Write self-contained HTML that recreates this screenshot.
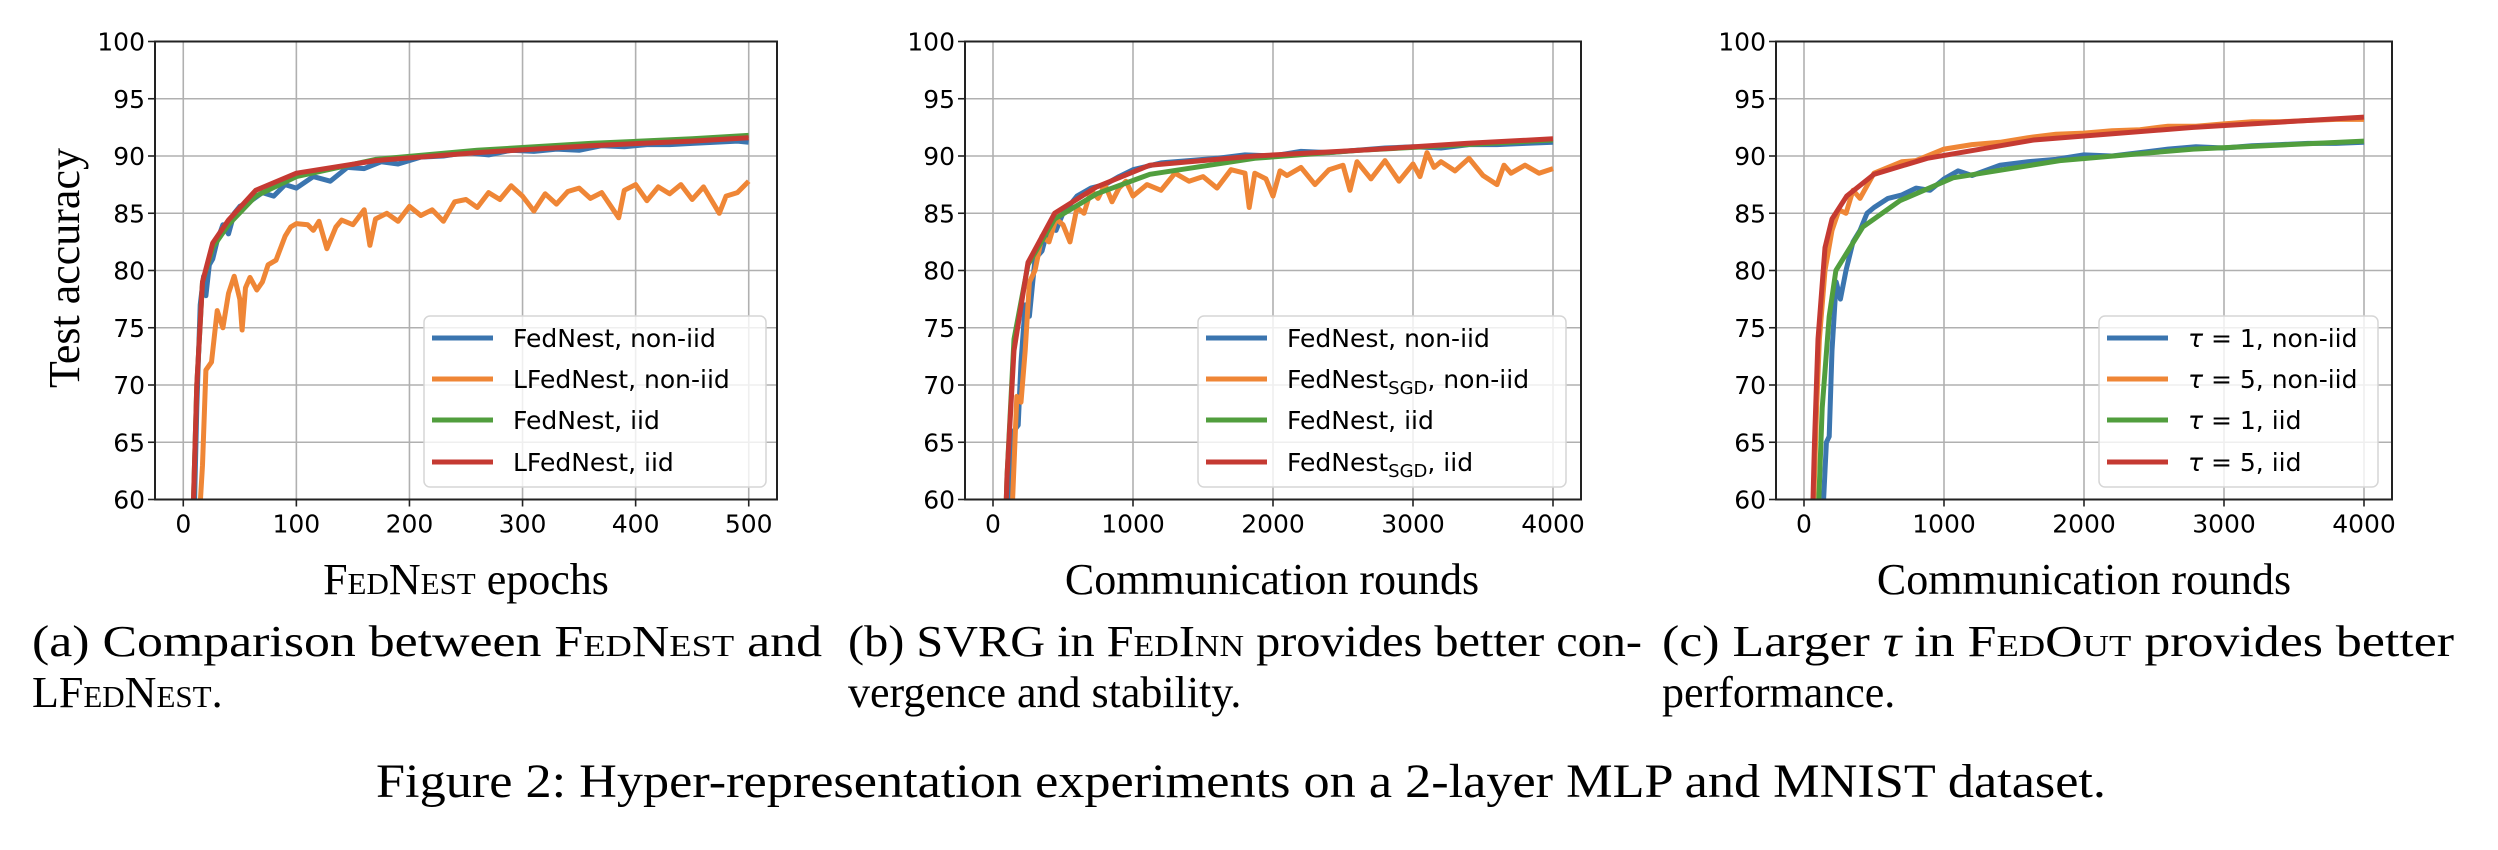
<!DOCTYPE html>
<html><head><meta charset="utf-8"><style>
html,body{margin:0;padding:0;background:#fff;}
svg{display:block;}
.tick{font-family:"DejaVu Sans","Liberation Sans",sans-serif;font-size:25px;fill:#000;}
.leg{font-family:"DejaVu Sans","Liberation Sans",sans-serif;font-size:25px;fill:#000;}
.serif{font-family:"Liberation Serif","DejaVu Serif",serif;fill:#000;}
.sc{font-variant:small-caps;}
</style></head><body>
<svg id="fig" width="2498" height="850" viewBox="0 0 2498 850" xmlns="http://www.w3.org/2000/svg">
<text class="serif" font-size="44" transform="translate(79,268) rotate(-90)" text-anchor="middle">Test accuracy</text>
<text class="serif" font-size="44" x="466" y="594" text-anchor="middle"><tspan class="sc">FedNest</tspan> epochs</text>
<text class="serif" font-size="44" x="1272" y="594" text-anchor="middle">Communication rounds</text>
<text class="serif" font-size="44" x="2084" y="594" text-anchor="middle">Communication rounds</text>
<text class="serif" font-size="44" x="32" y="656" textLength="790" lengthAdjust="spacingAndGlyphs">(a) Comparison between <tspan class="sc">FedNest</tspan> and</text>
<text class="serif" font-size="44" x="32" y="707">L<tspan class="sc">FedNest</tspan>.</text>
<text class="serif" font-size="44" x="848" y="656" textLength="794" lengthAdjust="spacingAndGlyphs">(b) SVRG in <tspan class="sc">FedInn</tspan> provides better con-</text>
<text class="serif" font-size="44" x="848" y="707">vergence and stability.</text>
<text class="serif" font-size="44" x="1662" y="656" textLength="792" lengthAdjust="spacingAndGlyphs">(c) Larger <tspan font-style="italic">τ</tspan> in <tspan class="sc">FedOut</tspan> provides better</text>
<text class="serif" font-size="44" x="1662" y="707">performance.</text>
<text class="serif" font-size="48" x="1241" y="797" text-anchor="middle" textLength="1730" lengthAdjust="spacingAndGlyphs">Figure 2: Hyper-representation experiments on a 2-layer MLP and MNIST dataset.</text>
</svg>
<script>
// ---------- data ----------
const yTicks = [60,65,70,75,80,85,90,95,100];
const xTicksA = [0,100,200,300,400,500];
const xTicksB = [0,1000,2000,3000,4000];
const xTicksC = [0,1000,2000,3000,4000];

// Panel A
const aBlueX = [10,12,15,18,20,23,26,30,35,40,45,50,60,70,80,90,100,115,130,145,160,175,190,210,230,250,270,290,310,330,350,370,390,410,430,450,470,490,500];
const aBlueY = [60,68,77,79.5,77.8,80.5,81,82.6,84,83.2,85,85.6,86.1,86.8,86.5,87.5,87.2,88.2,87.8,89,88.9,89.5,89.3,89.9,90,90.3,90.1,90.5,90.4,90.6,90.5,90.9,90.8,91,91,91.1,91.2,91.3,91.2];
const aOrangeX = [14,17,20,25,30,35,40,45,50,52,55,59,65,70,75,82,90,95,100,110,115,120,127,135,140,150,160,165,170,180,190,200,210,220,230,240,250,260,270,280,290,300,310,320,330,340,350,360,370,385,390,400,410,420,430,440,450,460,474,480,490,500];
const aOrangeY = [58,63,71.3,72,76.5,75,78,79.5,77.5,74.8,78.5,79.4,78.3,79,80.5,80.9,83,83.8,84.1,84,83.5,84.3,81.9,83.8,84.4,84,85.3,82.2,84.5,85,84.3,85.6,84.8,85.3,84.3,86,86.2,85.5,86.8,86.2,87.4,86.5,85.2,86.7,85.8,86.9,87.2,86.3,86.8,84.6,87,87.5,86.1,87.3,86.7,87.5,86.2,87.3,85,86.5,86.8,87.8];
const aGreenX = [9,12,17,26,40,64,100,170,260,360,450,500];
const aGreenY = [60,70,79,82,84,86.5,88.2,89.7,90.5,91.1,91.5,91.8];
const aRedX = [9,12,17,26,40,64,100,170,260,360,450,500];
const aRedY = [60,70,79,82.4,84.4,87,88.5,89.6,90.3,90.9,91.3,91.6];

// Panel B
const bBlueX = [120,150,180,200,230,260,300,350,400,450,500,600,700,800,900,1000,1200,1400,1600,1800,2000,2200,2400,2600,2800,3000,3200,3400,3600,3800,4000];
const bBlueY = [60,66,66.5,72,77,76,81,81.7,84,83.5,85,86.5,87.2,87.5,88.2,88.8,89.4,89.6,89.8,90.1,90,90.4,90.3,90.5,90.7,90.8,90.7,91,91,91.1,91.2];
const bOrangeX = [140,170,200,230,260,300,350,400,450,500,550,600,650,700,750,800,850,900,950,1000,1100,1200,1300,1400,1500,1600,1700,1800,1830,1870,1950,2000,2050,2100,2200,2300,2400,2500,2550,2600,2700,2800,2900,3000,3050,3100,3150,3200,3300,3400,3500,3600,3650,3700,3800,3900,4000];
const bOrangeY = [60,69,68.5,73,79,80,83,82.5,84.5,84,82.5,85.5,85,87,86.3,87.5,86,87.2,87.8,86.5,87.5,87,88.5,87.8,88.2,87.2,88.8,88.5,85.5,88.5,88,86.5,88.7,88.3,89,87.5,88.8,89.2,87,89.5,88,89.6,87.8,89.3,88.2,90.3,89,89.5,88.7,89.8,88.3,87.5,89.2,88.5,89.2,88.5,88.9];
const bGreenX = [90,100,150,250,440,740,1120,1870,2620,3380,4000];
const bGreenY = [58,62,74,80.5,84.5,86.7,88.4,89.8,90.5,91,91.4];
const bRedX = [90,100,150,250,440,740,1120,1870,2620,3380,4000];
const bRedY = [58,62,73,80.7,85,87.3,89.2,90,90.5,91.1,91.5];

// Panel C
const cBlueX = [140,160,180,200,230,260,300,350,400,450,500,600,700,800,900,1000,1100,1200,1400,1600,1800,2000,2200,2400,2600,2800,3000,3200,3400,3600,3800,4000];
const cBlueY = [60,65,65.5,73,79,77.5,80,82.5,83.5,85,85.5,86.3,86.6,87.2,87,88,88.7,88.3,89.2,89.5,89.7,90.1,90,90.3,90.6,90.8,90.7,90.9,91,91.1,91.1,91.2];
const cOrangeX = [70,90,110,150,200,250,300,350,400,500,600,700,800,1000,1200,1400,1600,1800,2000,2200,2400,2600,2800,3000,3200,3400,3600,3800,4000];
const cOrangeY = [60,68,74,80,83.5,85.3,85,87,86.3,88.5,89,89.5,89.6,90.6,91,91.2,91.6,91.9,92,92.2,92.3,92.6,92.6,92.8,93,93,93.1,93.2,93.2];
const cGreenX = [100,130,180,228,420,685,1064,1827,2780,4000];
const cGreenY = [58,68,76,80,83.8,86.1,88.1,89.6,90.6,91.3];
const cRedX = [60,75,100,150,200,305,500,880,1640,2780,4000];
const cRedY = [58,65,74,82,84.5,86.5,88.4,89.8,91.4,92.5,93.4];

const COLORS = {blue:'#3b75af', orange:'#ef8636', green:'#519e3e', red:'#c53a32'};

const svg = document.getElementById('fig');
const NS = 'http://www.w3.org/2000/svg';
function mk(tag, attrs){const e=document.createElementNS(NS,tag);for(const k in attrs)e.setAttribute(k,attrs[k]);return e;}

function panel(id, L, R, x0, x1, xTicks, series, legend){
  const T = 41.5, B = 499.5, y0 = 60, y1 = 100;
  const sx = v => L + (v - x0) / (x1 - x0) * (R - L);
  const sy = v => B - (v - y0) / (y1 - y0) * (B - T);
  const g = mk('g', {});
  
  
  svg.appendChild(g);
  const cp = mk('clipPath', {id:'clip-'+id});
  cp.appendChild(mk('rect',{x:L,y:T,width:R-L,height:B-T}));
  g.appendChild(cp);
  yTicks.forEach(t=>{
    const ln = mk('line',{x1:L,x2:R,y1:sy(t),y2:sy(t),stroke:'#b0b0b0','stroke-width':1.6});
    
    
    g.appendChild(ln);
  });
  xTicks.forEach(t=>{
    const ln = mk('line',{x1:sx(t),x2:sx(t),y1:T,y2:B,stroke:'#b0b0b0','stroke-width':1.6});
    
    
    g.appendChild(ln);
  });
  series.forEach(s=>{
    const d = s.x.map((v,i)=>(i?'L':'M')+sx(v).toFixed(1)+','+sy(s.y[i]).toFixed(1)).join(' ');
    const p = mk('path',{d:d,fill:'none',stroke:COLORS[s.c],'stroke-width':5,'stroke-linejoin':'round','clip-path':'url(#clip-'+id+')'});
    
    
    g.appendChild(p);
  });
  const fr = mk('rect',{x:L,y:T,width:R-L,height:B-T,fill:'none',stroke:'#222','stroke-width':2});
  
  
  g.appendChild(fr);
  yTicks.forEach(t=>{
    g.appendChild(mk('line',{x1:L-7,x2:L,y1:sy(t),y2:sy(t),stroke:'#222','stroke-width':1.6}));
    const tx = mk('text',{x:L-10,y:sy(t)+9,'text-anchor':'end',class:'tick'});
    
    
    tx.textContent = t; g.appendChild(tx);
  });
  xTicks.forEach(t=>{
    g.appendChild(mk('line',{x1:sx(t),x2:sx(t),y1:B,y2:B+7,stroke:'#222','stroke-width':1.6}));
    const tx = mk('text',{x:sx(t),y:B+33,'text-anchor':'middle',class:'tick'});
    
    
    tx.textContent = t; g.appendChild(tx);
  });
  const lg = mk('g',{});
  
  
  g.appendChild(lg);
  lg.appendChild(mk('rect',{x:legend.x,y:316,width:legend.w,height:171,rx:6,fill:'#fff','fill-opacity':0.8,stroke:'#d6d6d6','stroke-width':1.5}));
  const ys=[338,379,420,462];
  series.forEach((s,i)=>{
    const e = mk('g',{});
    
    
    e.appendChild(mk('line',{x1:legend.x+8,x2:legend.x+69,y1:ys[i],y2:ys[i],stroke:COLORS[s.c],'stroke-width':5}));
    const tx = mk('text',{x:legend.x+89,y:ys[i]+9,class:'leg'});
    tx.innerHTML = legend.labels[i];
    e.appendChild(tx);
    lg.appendChild(e);
  });
}

const SGD = 'FedNest<tspan font-size="18" dy="6">SGD</tspan><tspan dy="-6">';
panel('a',155,777,-25,525,xTicksA,[
  {name:'fednest-noniid',c:'blue',x:aBlueX,y:aBlueY},
  {name:'lfednest-noniid',c:'orange',x:aOrangeX,y:aOrangeY},
  {name:'fednest-iid',c:'green',x:aGreenX,y:aGreenY},
  {name:'lfednest-iid',c:'red',x:aRedX,y:aRedY}
],{x:424,w:342,labels:['FedNest, non-iid','LFedNest, non-iid','FedNest, iid','LFedNest, iid']});
panel('b',965,1581,-200,4200,xTicksB,[
  {name:'fednest-noniid',c:'blue',x:bBlueX,y:bBlueY},
  {name:'fednestsgd-noniid',c:'orange',x:bOrangeX,y:bOrangeY},
  {name:'fednest-iid',c:'green',x:bGreenX,y:bGreenY},
  {name:'fednestsgd-iid',c:'red',x:bRedX,y:bRedY}
],{x:1198,w:368,labels:['FedNest, non-iid',SGD+', non-iid</tspan>','FedNest, iid',SGD+', iid</tspan>']});
panel('c',1776,2392,-200,4200,xTicksC,[
  {name:'tau1-noniid',c:'blue',x:cBlueX,y:cBlueY},
  {name:'tau5-noniid',c:'orange',x:cOrangeX,y:cOrangeY},
  {name:'tau1-iid',c:'green',x:cGreenX,y:cGreenY},
  {name:'tau5-iid',c:'red',x:cRedX,y:cRedY}
],{x:2099,w:279,labels:['<tspan font-style="italic">τ</tspan> = 1, non-iid','<tspan font-style="italic">τ</tspan> = 5, non-iid','<tspan font-style="italic">τ</tspan> = 1, iid','<tspan font-style="italic">τ</tspan> = 5, iid']});
</script>
</body></html>
